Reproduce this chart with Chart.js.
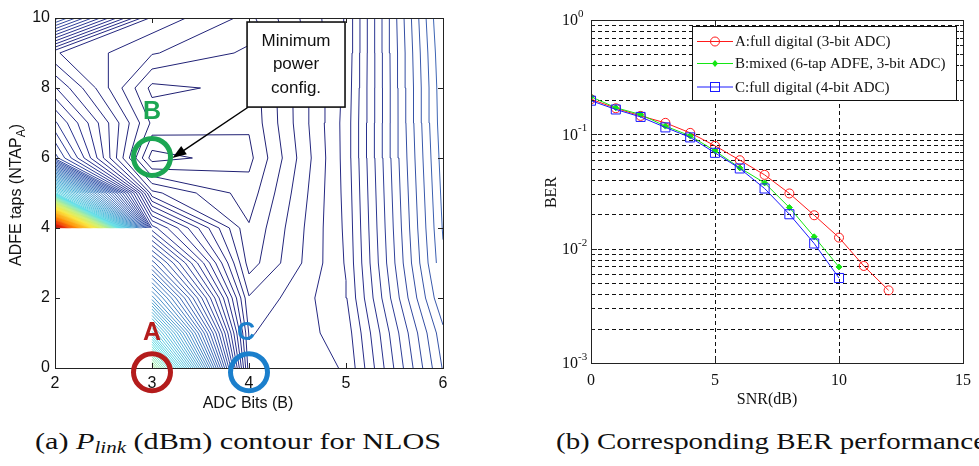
<!DOCTYPE html>
<html><head><meta charset="utf-8">
<script src="https://cdn.jsdelivr.net/npm/chart.js@4.4.0/dist/chart.umd.min.js"></script>
<style>
body{margin:0;background:#fff;width:979px;height:466px;overflow:hidden;position:relative}
#wa{position:absolute;left:0;top:0;width:470px;height:420px}
#wb{position:absolute;left:540px;top:0;width:439px;height:420px}
.cap{position:absolute;top:429px;font-family:"Liberation Serif","Times New Roman",serif;font-size:23px;line-height:25px;white-space:nowrap;color:#111}
.cap sub{font-size:16px;vertical-align:-4px}
</style></head><body>
<div id="wa"><canvas id="ca" width="470" height="420"></canvas></div>
<div id="wb"><canvas id="cb" width="439" height="420"></canvas></div>
<div class="cap" id="capA" data-w="406" style="left:35px">(a) <i>P</i><sub><i>link</i></sub> (dBm) contour for NLOS</div>
<div class="cap" id="capB" data-w="430" style="left:556px">(b) Corresponding BER performance</div>
<script>
// ---------- (a) contour data: P_link level grid, columns = ADC bits, rows = ADFE taps 0..10 ----------
const xBits = [2, 3, 4, 5, 6];
const yTaps = [0, 1, 2, 3, 4, 5, 6, 7, 8, 9, 10];
const pAt2 = [null, null, null, null, 100, 40, 15, 11.7, 8.6, 5.6, 17];
const pAt3 = [52, 38, 27, 19, 12, 4.8, 0, 2.3, 1.2, 3.6, 5.2];
const pAt4 = [5.9, 5.4, 4.6, 3.0, 2.6, 1.95, 1.2, 1.65, 1.8, 2.3, 3.2];
const pAt5 = [6.55, 6.9, 7.4, 7.6, 7.7, 7.8, 7.9, 7.9, 7.8, 7.7, 7.6];
const pAt6 = [16.6, 17.2, 18.5, 19.3, 19.6, 19.8, 20, 20.2, 20.3, 20.5, 20.8];
const xTicksA = [2, 3, 4, 5, 6];
const yTicksA = [0, 2, 4, 6, 8, 10];

// ---------- (b) BER data ----------
const snrA = [0, 1, 2, 3, 4, 5, 6, 7, 8, 9, 10, 11, 12];
const berA = [0.203, 0.169, 0.145, 0.126, 0.103, 0.0794, 0.0594, 0.0442, 0.0304, 0.0196, 0.0125, 0.00706, 0.00432];
const snrB = [0, 1, 2, 3, 4, 5, 6, 7, 8, 9, 10];
const berB = [0.213, 0.171, 0.149, 0.118, 0.097, 0.0717, 0.0509, 0.0376, 0.0229, 0.0127, 0.00692];
const snrC = [0, 1, 2, 3, 4, 5, 6, 7, 8, 9, 10];
const berC = [0.197, 0.165, 0.142, 0.115, 0.094, 0.0689, 0.0503, 0.0336, 0.0200, 0.0111, 0.00554];
const labelsB = ['A:full digital (3-bit ADC)', 'B:mixed (6-tap ADFE, 3-bit ADC)', 'C:full digital (4-bit ADC)'];
const xTicksB = [0, 5, 10, 15];
const yDecades = [-3, -2, -1, 0];

// ---------- contour computation (marching squares on the grid) ----------
const Z = [pAt2, pAt3, pAt4, pAt5, pAt6];
const zVals = Z.flat().filter(v => v !== null);
const zMin = Math.min(...zVals), zMax = Math.max(...zVals);
const levels = [];
for (let L = Math.floor(zMin) + 0.5; L < zMax; L += 1) levels.push(L);

// colour map as it appears in the print (navy -> steel blue -> cyan -> yellow -> red)
const cmapStops = [[0, 30, 30, 110], [0.1, 40, 46, 140], [0.2, 62, 104, 182], [0.3, 82, 172, 214], [0.42, 100, 226, 232], [0.55, 200, 240, 120], [0.65, 250, 230, 60], [0.80, 255, 140, 0], [0.92, 230, 30, 0], [1, 150, 0, 0]];
function cmap(t) {
  t = Math.max(0, Math.min(1, t));
  for (let k = 1; k < cmapStops.length; k++) {
    const a = cmapStops[k - 1], b = cmapStops[k];
    if (t <= b[0]) { const f = (t - a[0]) / (b[0] - a[0]); return `rgb(${[1, 2, 3].map(m => Math.round(a[m] + f * (b[m] - a[m]))).join(',')})`; }
  }
  return 'rgb(150,0,0)';
}
function contourSegments(level) {
  const out = [];
  const cross = (za, zb, xa, ya, xb, yb) => {
    if ((za - level) * (zb - level) < 0) { const t = (level - za) / (zb - za); return { x: xa + t * (xb - xa), y: ya + t * (yb - ya) }; }
    return null;
  };
  for (let i = 0; i < xBits.length - 1; i++) for (let j = 0; j < yTaps.length - 1; j++) {
    const z00 = Z[i][j], z10 = Z[i + 1][j], z11 = Z[i + 1][j + 1], z01 = Z[i][j + 1];
    if ([z00, z10, z11, z01].some(v => v === null)) continue;
    const x0 = xBits[i], x1 = xBits[i + 1], y0 = yTaps[j], y1 = yTaps[j + 1];
    const e = [cross(z00, z10, x0, y0, x1, y0), cross(z10, z11, x1, y0, x1, y1), cross(z11, z01, x1, y1, x0, y1), cross(z01, z00, x0, y1, x0, y0)];
    const c = e.filter(p => p);
    if (c.length === 2) out.push([c[0], c[1]]);
    else if (c.length === 4) {
      const zc = (z00 + z10 + z11 + z01) / 4;
      if ((zc - level) * (z00 - level) > 0) { out.push([e[0], e[1]]); out.push([e[2], e[3]]); }
      else { out.push([e[0], e[3]]); out.push([e[1], e[2]]); }
    }
  }
  return out;
}
const contourSets = levels.map(L => {
  const data = [];
  contourSegments(L).forEach(s => { data.push(s[0], s[1], { x: s[1].x, y: null }); });
  return { data, borderColor: cmap((L - zMin) / (zMax - zMin)), borderWidth: 1, pointRadius: 0, fill: false, tension: 0, spanGaps: false };
});

// ---------- annotations for (a) ----------
const circlesA = [{ x: 3, y: 6.03, c: '#1ca653' }, { x: 3, y: -0.12, c: '#b41c1c' }, { x: 4.0, y: -0.12, c: '#1b7fcc' }];
const lettersA = [{ t: 'A', x: 3, y: 0.99, c: '#b41c1c' }, { t: 'B', x: 3, y: 7.31, c: '#1ca653' }, { t: 'C', x: 3.97, y: 0.99, c: '#1b7fcc' }];
const boxA = { x0: 3.98, x1: 4.99, y0: 9.885, y1: 7.455, lines: ['Minimum', 'power', 'config.'] };
const arrowA = { x0: 3.99, y0: 7.45, x1: 3.21, y1: 6.0 };

function frameTicks(ctx, ca, xs, ys, xv, yv, len) {
  ctx.save();
  ctx.strokeStyle = '#222'; ctx.lineWidth = 1;
  ctx.strokeRect(Math.round(ca.left) + 0.5, Math.round(ca.top) + 0.5, Math.round(ca.right - ca.left), Math.round(ca.bottom - ca.top));
  ctx.beginPath();
  xv.forEach(v => { const p = Math.round(xs.getPixelForValue(v)) + 0.5; ctx.moveTo(p, ca.bottom); ctx.lineTo(p, ca.bottom - len); ctx.moveTo(p, ca.top); ctx.lineTo(p, ca.top + len); });
  yv.forEach(o => { const v = o.v ?? o; const l = o.l ?? len; const p = Math.round(ys.getPixelForValue(v)) + 0.5; ctx.moveTo(ca.left, p); ctx.lineTo(ca.left + l, p); ctx.moveTo(ca.right, p); ctx.lineTo(ca.right - l, p); });
  ctx.stroke();
  ctx.restore();
}

const pluginA = {
  id: 'annA',
  afterDatasetsDraw(chart) {
    const { ctx, chartArea: ca, scales: { x, y } } = chart;
    frameTicks(ctx, ca, x, y, xTicksA, yTicksA, 5);
    ctx.save();
    // arrow
    const ax0 = x.getPixelForValue(arrowA.x0), ay0 = y.getPixelForValue(arrowA.y0);
    const ax1 = x.getPixelForValue(arrowA.x1), ay1 = y.getPixelForValue(arrowA.y1);
    const ang = Math.atan2(ay1 - ay0, ax1 - ax0);
    ctx.strokeStyle = '#000'; ctx.fillStyle = '#000'; ctx.lineWidth = 1.5;
    ctx.beginPath(); ctx.moveTo(ax0, ay0); ctx.lineTo(ax1 - 8 * Math.cos(ang), ay1 - 8 * Math.sin(ang)); ctx.stroke();
    ctx.beginPath(); ctx.moveTo(ax1, ay1);
    ctx.lineTo(ax1 - 14 * Math.cos(ang) + 5 * Math.sin(ang), ay1 - 14 * Math.sin(ang) - 5 * Math.cos(ang));
    ctx.lineTo(ax1 - 14 * Math.cos(ang) - 5 * Math.sin(ang), ay1 - 14 * Math.sin(ang) + 5 * Math.cos(ang));
    ctx.closePath(); ctx.fill();
    // box
    const bx0 = x.getPixelForValue(boxA.x0), bx1 = x.getPixelForValue(boxA.x1);
    const by0 = y.getPixelForValue(boxA.y0), by1 = y.getPixelForValue(boxA.y1);
    ctx.fillStyle = '#fff'; ctx.fillRect(bx0, by0, bx1 - bx0, by1 - by0);
    ctx.lineWidth = 1.6; ctx.strokeStyle = '#111'; ctx.strokeRect(bx0, by0, bx1 - bx0, by1 - by0);
    ctx.fillStyle = '#111'; ctx.font = '17px "Liberation Sans", Arial, sans-serif'; ctx.textAlign = 'center'; ctx.textBaseline = 'middle';
    boxA.lines.forEach((t, i) => ctx.fillText(t, (bx0 + bx1) / 2, by0 + 19 + i * 23.5));
    // circles
    circlesA.forEach(c => { ctx.beginPath(); ctx.lineWidth = 5; ctx.strokeStyle = c.c; ctx.arc(x.getPixelForValue(c.x), y.getPixelForValue(c.y), 18.5, 0, 2 * Math.PI); ctx.stroke(); });
    ctx.font = 'bold 25px "Liberation Sans", Arial, sans-serif';
    lettersA.forEach(l => { ctx.fillStyle = l.c; ctx.fillText(l.t, x.getPixelForValue(l.x), y.getPixelForValue(l.y)); });
    // axis titles
    ctx.fillStyle = '#111'; ctx.font = '16px "Liberation Sans", Arial, sans-serif';
    ctx.fillText('ADC Bits (B)', (ca.left + ca.right) / 2 - 1, 404);
    ctx.translate(17, (ca.top + ca.bottom) / 2 + 2); ctx.rotate(-Math.PI / 2);
    const p1 = 'ADFE taps (NTAP', p2 = 'A', p3 = ')';
    ctx.font = '16px "Liberation Sans", Arial, sans-serif'; const w1 = ctx.measureText(p1).width, w3 = ctx.measureText(p3).width;
    ctx.font = '12px "Liberation Sans", Arial, sans-serif'; const w2 = ctx.measureText(p2).width;
    let sx = -(w1 + w2 + w3) / 2; ctx.textAlign = 'left';
    ctx.font = '16px "Liberation Sans", Arial, sans-serif'; ctx.fillText(p1, sx, 0);
    ctx.font = '12px "Liberation Sans", Arial, sans-serif'; ctx.fillText(p2, sx + w1, 5);
    ctx.font = '16px "Liberation Sans", Arial, sans-serif'; ctx.fillText(p3, sx + w1 + w2, 0);
    ctx.restore();
  }
};

new Chart(document.getElementById('ca'), {
  type: 'line',
  data: { datasets: contourSets },
  options: {
    responsive: false, animation: false, devicePixelRatio: 1, events: [],
    layout: { padding: { left: 0, top: 18, right: 27, bottom: 0 } },
    plugins: { legend: { display: false }, tooltip: { enabled: false } },
    scales: {
      x: { type: 'linear', min: 2, max: 6, afterFit: s => { s.height = 52; },
        afterBuildTicks: s => { s.ticks = xTicksA.map(v => ({ value: v })); },
        grid: { display: false, drawTicks: false }, border: { display: false },
        ticks: { padding: 6, color: '#111', font: { family: '"Liberation Sans", Arial, sans-serif', size: 16 }, maxRotation: 0 } },
      y: { type: 'linear', min: 0, max: 10, afterFit: s => { s.width = 55; },
        afterBuildTicks: s => { s.ticks = yTicksA.map(v => ({ value: v })); },
        grid: { display: false, drawTicks: false }, border: { display: false },
        ticks: { padding: 5, color: '#111', font: { family: '"Liberation Sans", Arial, sans-serif', size: 16 } } }
    }
  },
  plugins: [pluginA]
});

// ---------- (b) BER chart ----------
const sup = { '0': '0', '-1': '-1', '-2': '-2', '-3': '-3' };
const gridYB = [];
yDecades.slice(0, -1).forEach(d => { [1, 2, 3, 4, 5, 6, 7, 8, 9].forEach(k => gridYB.push(k * Math.pow(10, d))); });

function markB(ctx, style, x, y, color) {
  ctx.save(); ctx.strokeStyle = color; ctx.fillStyle = color; ctx.lineWidth = 1;
  if (style === 'circle') { ctx.beginPath(); ctx.arc(x, y, 4.5, 0, 2 * Math.PI); ctx.stroke(); }
  else if (style === 'rect') { ctx.strokeRect(x - 4.5, y - 4.5, 9, 9); }
  else { ctx.beginPath(); ctx.moveTo(x, y - 3.5); ctx.lineTo(x + 3, y); ctx.lineTo(x, y + 3.5); ctx.lineTo(x - 3, y); ctx.closePath(); ctx.fill(); }
  ctx.restore();
}

const pluginB = {
  id: 'annB',
  beforeDatasetsDraw(chart) {
    const { ctx, chartArea: ca, scales: { x, y } } = chart;
    ctx.save(); ctx.strokeStyle = '#111'; ctx.lineWidth = 1; ctx.setLineDash([4, 3]);
    ctx.beginPath();
    gridYB.forEach(v => { if (v <= y.min || v >= y.max) return; const p = Math.round(y.getPixelForValue(v)) + 0.5; ctx.moveTo(ca.left, p); ctx.lineTo(ca.right, p); });
    xTicksB.forEach(v => { if (v <= x.min || v >= x.max) return; const p = Math.round(x.getPixelForValue(v)) + 0.5; ctx.moveTo(p, ca.top); ctx.lineTo(p, ca.bottom); });
    ctx.stroke(); ctx.restore();
  },
  afterDatasetsDraw(chart) {
    const { ctx, chartArea: ca, scales: { x, y } } = chart;
    const yt = yDecades.map(d => ({ v: Math.pow(10, d), l: 6 })).concat(gridYB.filter(v => Math.log10(v) % 1 !== 0).map(v => ({ v, l: 3 })));
    frameTicks(ctx, ca, x, y, xTicksB, yt, 6);
    ctx.save();
    ctx.fillStyle = '#111'; ctx.textBaseline = 'middle';
    yDecades.forEach(d => {
      const p = y.getPixelForValue(Math.pow(10, d));
      ctx.font = '16px "Liberation Serif", "Times New Roman", serif'; ctx.textAlign = 'right';
      ctx.fillText('10', 38, p + 1);
      ctx.font = '11px "Liberation Serif", "Times New Roman", serif'; ctx.textAlign = 'left';
      ctx.fillText(sup[String(d)], 38, p - 6);
    });
    ctx.textAlign = 'center'; ctx.font = '16px "Liberation Serif", "Times New Roman", serif';
    ctx.fillText('SNR(dB)', (ca.left + ca.right) / 2 - 10, 400);
    ctx.save(); ctx.translate(12, (ca.top + ca.bottom) / 2 + 1); ctx.rotate(-Math.PI / 2); ctx.fillText('BER', 0, 0); ctx.restore();
    // legend
    const L = { x0: 152, y0: 26, x1: 416, y1: 100 };
    ctx.fillStyle = '#fff'; ctx.fillRect(L.x0, L.y0, L.x1 - L.x0, L.y1 - L.y0);
    ctx.strokeStyle = '#111'; ctx.lineWidth = 1; ctx.strokeRect(L.x0 + 0.5, L.y0 + 0.5, L.x1 - L.x0, L.y1 - L.y0);
    const rows = [41.5, 63.5, 87];
    chart.data.datasets.forEach((ds, i) => {
      const ry = rows[i];
      ctx.strokeStyle = ds.borderColor; ctx.lineWidth = 1; ctx.beginPath(); ctx.moveTo(157, ry); ctx.lineTo(193, ry); ctx.stroke();
      markB(ctx, ds.pointStyle, 175, ry, ds.borderColor);
      ctx.fillStyle = '#111'; ctx.textAlign = 'left'; ctx.font = '15px "Liberation Serif", "Times New Roman", serif';
      ctx.fillText(ds.label, 195, ry + 1);
    });
    ctx.restore();
  }
};

const mk = (xs, ys) => xs.map((v, i) => ({ x: v, y: ys[i] }));
new Chart(document.getElementById('cb'), {
  type: 'line',
  data: {
    datasets: [
      { label: labelsB[0], data: mk(snrA, berA), borderColor: '#ff1a1a', backgroundColor: 'rgba(0,0,0,0)', pointStyle: 'circle', pointRadius: 4.5, pointBorderWidth: 1, borderWidth: 1, order: 3 },
      { label: labelsB[1], data: mk(snrB, berB), borderColor: '#14e614', backgroundColor: '#14e614', pointStyle: 'rectRot', pointRadius: 3, pointBorderWidth: 1, borderWidth: 1, order: 2 },
      { label: labelsB[2], data: mk(snrC, berC), borderColor: '#1a1aff', backgroundColor: 'rgba(0,0,0,0)', pointStyle: 'rect', pointRadius: 6.4, pointBorderWidth: 1, borderWidth: 1, order: 1 }
    ]
  },
  options: {
    responsive: false, animation: false, devicePixelRatio: 1, events: [],
    layout: { padding: { left: 0, top: 20, right: 13, bottom: 0 } },
    plugins: { legend: { display: false }, tooltip: { enabled: false } },
    scales: {
      x: { type: 'linear', min: 0, max: 15, afterFit: s => { s.height = 57; },
        afterBuildTicks: s => { s.ticks = xTicksB.map(v => ({ value: v })); },
        grid: { display: false, drawTicks: false }, border: { display: false },
        ticks: { padding: 8, color: '#111', font: { family: '"Liberation Serif", "Times New Roman", serif', size: 16 }, maxRotation: 0 } },
      y: { type: 'logarithmic', min: 1e-3, max: 1, afterFit: s => { s.width = 51; },
        grid: { display: false, drawTicks: false }, border: { display: false },
        ticks: { display: false } }
    }
  },
  plugins: [pluginB]
});

// captions: fit to the reference widths
document.querySelectorAll('.cap').forEach(el => {
  const w = el.getBoundingClientRect().width; const t = +el.dataset.w;
  el.style.transformOrigin = '0 0'; el.style.transform = `scaleX(${t / w})`;
});
</script>
</body></html>
